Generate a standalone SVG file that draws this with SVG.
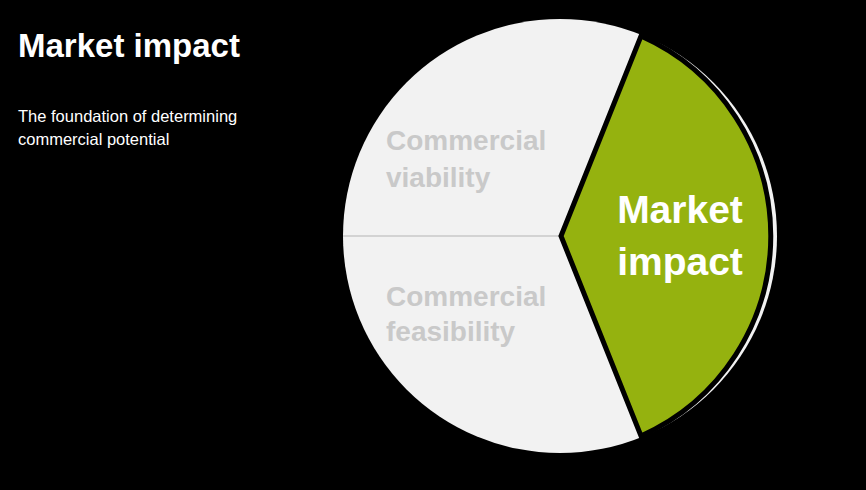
<svg xmlns="http://www.w3.org/2000/svg" width="866" height="490" viewBox="0 0 866 490">
<style>
text{font-family:"Liberation Sans",Arial,sans-serif}
.seg{font-weight:bold;font-size:28px;fill:#c9c9c9}
.mk{font-weight:bold;font-size:39px;fill:#fff;text-anchor:middle}
</style>
<rect width="866" height="490" fill="#000"/>
<text x="18" y="57" font-size="33" font-weight="bold" fill="#fff">Market impact</text>
<text x="18" y="122" font-size="16.5" fill="#fff">The foundation of determining</text>
<text x="18" y="145" font-size="16.5" fill="#fff">commercial potential</text>
<g id="viability">
<circle cx="560" cy="236" r="217" fill="#f2f2f2"/>
<line x1="343" y1="236" x2="562" y2="236" stroke="#c8c8c8" stroke-width="1.5"/>
<text class="seg" x="386" y="150">Commercial</text>
<text class="seg" x="386" y="187">viability</text>
</g>
<g id="feasibility">
<text class="seg" x="386" y="306">Commercial</text>
<text class="seg" x="386" y="341">feasibility</text>
</g>
<g id="market">
<path d="M641 36 A219 219 0 0 1 641 436 L561 236 Z" fill="#95b20f" stroke="#000" stroke-width="5" stroke-linejoin="miter"/>
<text class="mk" x="680" y="223">Market</text>
<text class="mk" x="680" y="275">impact</text>
</g>
</svg>
